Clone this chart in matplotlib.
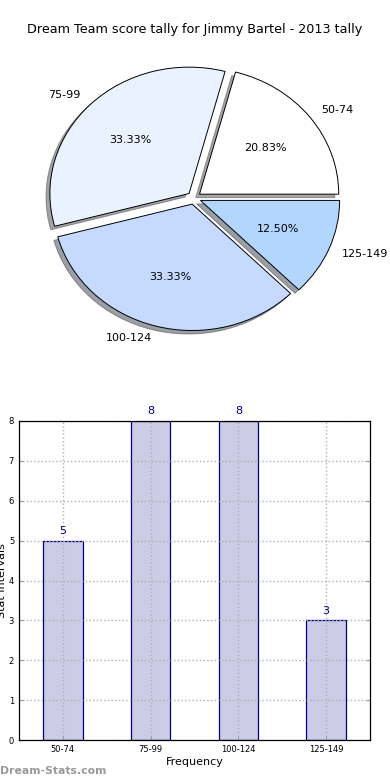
import matplotlib
matplotlib.use("Agg")
import matplotlib.pyplot as plt

categories = ["50-74", "75-99", "100-124", "125-149"]
counts = [5, 8, 8, 3]
pie_colors = ["#ffffff", "#eaf1ff", "#c6d9ff", "#b3d6ff"]
title = "Dream Team score tally for Jimmy Bartel - 2013 tally"

fig = plt.figure(figsize=(3.9, 7.8), dpi=100)

fig.text(0.5, 1 - 30 / 780, title, ha="center", va="center", fontsize=9.2)

axp = fig.add_axes([20 / 390, 1 - 356 / 780, 348 / 390, 316 / 780])
wedges, texts, autotexts = axp.pie(
    counts, labels=categories, colors=pie_colors, autopct="%.2f%%",
    explode=[0.05] * len(counts), shadow=True, startangle=0,
    wedgeprops=dict(edgecolor="black", linewidth=0.7),
    textprops=dict(fontsize=8))
axp.set_aspect("auto")
axp.set_xlim(-1.25, 1.25)
axp.set_ylim(-1.25, 1.25)
axp.axis("off")

axb = fig.add_axes([19 / 390, 1 - 740 / 780, 351 / 390, 319 / 780])
x = list(range(len(categories)))
axb.bar(x, counts, width=0.45, color="#cccce6",
        edgecolor="#000080", linewidth=0.9, zorder=2)
for xi, c in zip(x, counts):
    axb.text(xi, c + 0.12, str(c), ha="center", va="bottom", fontsize=8, color="#000080")
axb.set_xlim(-0.5, 3.5)
axb.set_ylim(0, 8)
axb.set_xticks(x)
axb.set_xticklabels(categories)
axb.set_yticks(range(0, 9))
axb.tick_params(labelsize=6, direction="in", length=3, color="#999999", top=False, right=True)
axb.set_axisbelow(False)
axb.grid(True, linestyle=":", color="#b0b0b0", linewidth=1)
axb.set_xlabel("Frequency", fontsize=8, labelpad=2)
axb.set_ylabel("Stat Intervals", fontsize=8)
axb.yaxis.set_label_coords(-0.033, 0.5)
for s in axb.spines.values():
    s.set_linewidth(0.9)
    s.set_zorder(5)

fig.text(0.0, 1 - 771 / 780, "Dream-Stats.com", ha="left", va="center",
         fontsize=7.8, color="#999999", fontweight="bold")

fig.savefig("out.png", dpi=100)
